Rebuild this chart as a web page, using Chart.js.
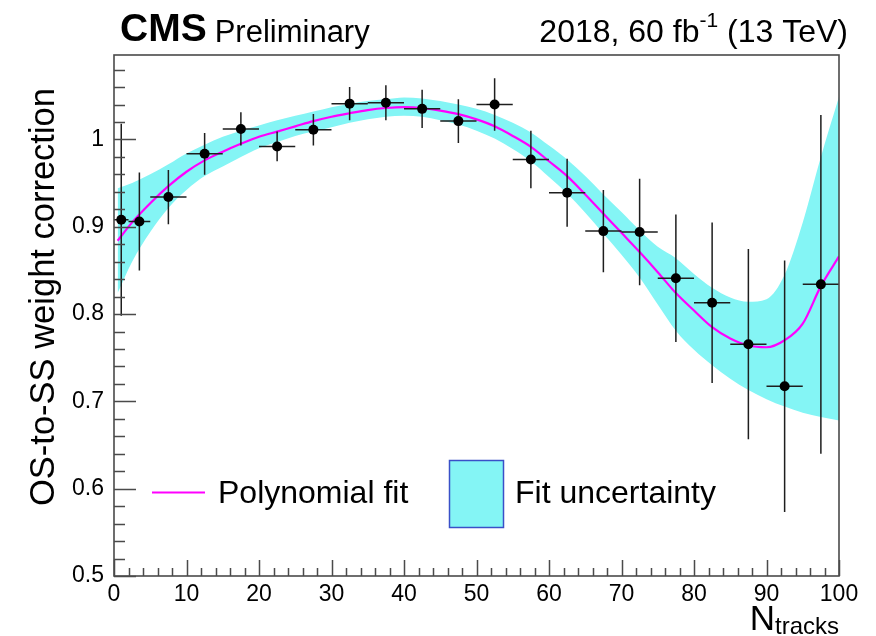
<!DOCTYPE html>
<html>
<head>
<meta charset="utf-8">
<script src="https://cdn.jsdelivr.net/npm/chart.js@4.4.1/dist/chart.umd.min.js"></script>
<style>
html,body{margin:0;padding:0;background:#fff;}
#wrap{position:relative;width:876px;height:636px;}
canvas{display:block;}
</style>
</head>
<body>
<div id="wrap"><canvas id="c" width="876" height="636"></canvas></div>
<script>
// ---- data ----
const binCenters    = [1, 3.5, 7.5, 12.5, 17.5, 22.5, 27.5, 32.5, 37.5, 42.5, 47.5, 52.5, 57.5, 62.5, 67.5, 72.5, 77.5, 82.5, 87.5, 92.5, 97.5];
const binHalfWidths = [1, 1.5, 2.5, 2.5, 2.5, 2.5, 2.5, 2.5, 2.5, 2.5, 2.5, 2.5, 2.5, 2.5, 2.5, 2.5, 2.5, 2.5, 2.5, 2.5, 2.5];
const ratioValues   = [0.908, 0.906, 0.934, 0.9835, 1.012, 0.992, 1.011, 1.041, 1.042, 1.035, 1.021, 1.040, 0.977, 0.939, 0.895, 0.894, 0.841, 0.813, 0.7655, 0.7174, 0.834];
const ratioErrors   = [0.110, 0.056, 0.031, 0.024, 0.019, 0.017, 0.018, 0.019, 0.020, 0.022, 0.025, 0.030, 0.033, 0.039, 0.047, 0.061, 0.073, 0.092, 0.109, 0.144, 0.194];

const fitX     = [0.5, 2.5, 5, 7.5, 10, 12.5, 15, 17.5, 20, 22.5, 25, 27.5, 30, 32.5, 35, 37.5, 40, 42.5, 45, 47.5, 50, 52.5, 55, 57.5, 60, 62.5, 65, 67.5, 70, 72.5, 75, 77.5, 80, 82.5, 85, 87.5, 90, 92.5, 95, 97.5, 100];
const fitY     = [0.884, 0.905, 0.927, 0.9465, 0.963, 0.976, 0.986, 0.995, 1.003, 1.009, 1.015, 1.021, 1.026, 1.030, 1.0336, 1.036, 1.037, 1.036, 1.033, 1.029, 1.023, 1.015, 1.004, 0.9915, 0.975, 0.958, 0.937, 0.915, 0.893, 0.871, 0.848, 0.824, 0.804, 0.785, 0.772, 0.764, 0.762, 0.770, 0.789, 0.832, 0.866];
const bandHigh = [0.944, 0.950, 0.960, 0.9715, 0.984, 0.994, 1.003, 1.010, 1.016, 1.022, 1.027, 1.032, 1.037, 1.041, 1.044, 1.046, 1.048, 1.047, 1.044, 1.040, 1.035, 1.028, 1.019, 1.008, 0.993, 0.977, 0.958, 0.937, 0.917, 0.896, 0.877, 0.864, 0.846, 0.830, 0.819, 0.814, 0.817, 0.845, 0.905, 0.980, 1.049];
const bandLow  = [0.824, 0.860, 0.894, 0.9215, 0.942, 0.958, 0.969, 0.980, 0.990, 0.997, 1.004, 1.009, 1.014, 1.019, 1.023, 1.026, 1.027, 1.026, 1.022, 1.017, 1.010, 1.001, 0.989, 0.975, 0.957, 0.938, 0.916, 0.892, 0.868, 0.842, 0.811, 0.781, 0.759, 0.7415, 0.726, 0.713, 0.7025, 0.694, 0.687, 0.682, 0.678];

const xTickValues = [0, 10, 20, 30, 40, 50, 60, 70, 80, 90, 100];
const xTickLabels = ['0', '10', '20', '30', '40', '50', '60', '70', '80', '90', '100'];
const yTickValues = [0.5, 0.6, 0.7, 0.8, 0.9, 1.0];
const yTickLabels = ['0.5', '0.6', '0.7', '0.8', '0.9', '1'];

const xTitleMain = 'N';
const xTitleSub = 'tracks';
const yTitle = 'OS-to-SS weight correction';
const legendFit = 'Polynomial fit';
const legendBand = 'Fit uncertainty';

// ---- styling ----
const FONT = "'Liberation Sans', Arial, Helvetica, sans-serif";
const BAND_COLOR = '#84f5f5';
const FIT_COLOR = '#ff00ff';
const AXIS_COLOR = '#4a4a4a';

const X_MIN = 0, X_MAX = 100, Y_MIN = 0.5, Y_MAX = 1.0967;

const pts = (xs, ys) => xs.map((x, i) => ({x: x, y: ys[i]}));

// error bars drawn just before the points dataset
const errorBars = {
  id: 'errorBars',
  beforeDatasetDraw(chart, args) {
    if (args.index !== 0) return;
    const ctx = chart.ctx, xs = chart.scales.x, ys = chart.scales.y;
    const a = chart.chartArea;
    ctx.save();
    ctx.beginPath();
    ctx.rect(a.left, a.top, a.right - a.left, a.bottom - a.top);
    ctx.clip();
    ctx.strokeStyle = '#1e1e1e';
    ctx.lineWidth = 1.5;
    ctx.beginPath();
    binCenters.forEach((c, i) => {
      const px = xs.getPixelForValue(c);
      const py = ys.getPixelForValue(ratioValues[i]);
      const x0 = xs.getPixelForValue(c - binHalfWidths[i]);
      const x1 = xs.getPixelForValue(c + binHalfWidths[i]);
      const y0 = ys.getPixelForValue(ratioValues[i] - ratioErrors[i]);
      const y1 = ys.getPixelForValue(ratioValues[i] + ratioErrors[i]);
      ctx.moveTo(x0, py); ctx.lineTo(x1, py);
      ctx.moveTo(px, y0); ctx.lineTo(px, y1);
    });
    ctx.stroke();
    ctx.restore();
  }
};

// frame, inward ticks, texts
const decorations = {
  id: 'decorations',
  afterDatasetsDraw(chart) {
    const ctx = chart.ctx, xs = chart.scales.x, ys = chart.scales.y;
    const a = chart.chartArea;
    ctx.save();
    ctx.strokeStyle = AXIS_COLOR;
    ctx.lineWidth = 1.5;
    ctx.beginPath();
    for (let k = 0; k <= 29; k++) {
      const v = Y_MIN + k * 0.02;
      if (v > Y_MAX) break;
      const py = Math.round(ys.getPixelForValue(v)) + 0.5;
      const major = (k % 5 === 0);
      ctx.moveTo(a.left, py); ctx.lineTo(a.left + (major ? 22 : 11), py);
    }
    for (let k = 0; k <= 50; k++) {
      const v = X_MIN + k * 2;
      const px = Math.round(xs.getPixelForValue(v)) + 0.5;
      const major = (k % 5 === 0);
      ctx.moveTo(px, a.bottom); ctx.lineTo(px, a.bottom - (major ? 16 : 8));
    }
    ctx.stroke();
    ctx.lineWidth = 1.6;
    ctx.strokeRect(a.left, a.top, a.right - a.left, a.bottom - a.top);
    ctx.restore();
  },
  afterDraw(chart) {
    const ctx = chart.ctx;
    ctx.save();
    ctx.fillStyle = '#000';
    ctx.textBaseline = 'alphabetic';
    // header
    ctx.textAlign = 'left';
    ctx.font = 'bold 39px ' + FONT;
    ctx.fillText('CMS', 120, 41);
    const wCMS = ctx.measureText('CMS').width;
    ctx.font = '31px ' + FONT;
    ctx.fillText('Preliminary', 120 + wCMS + 8, 42);
    // right header: 2018, 60 fb^-1 (13 TeV)
    const p1 = '2018, 60 fb', sup = '-1', p2 = ' (13 TeV)';
    ctx.font = '32px ' + FONT; const w1 = ctx.measureText(p1).width, w3 = ctx.measureText(p2).width;
    ctx.font = '21px ' + FONT; const w2 = ctx.measureText(sup).width;
    let xr = 848 - (w1 + w2 + w3);
    ctx.font = '32px ' + FONT; ctx.fillText(p1, xr, 42);
    ctx.font = '21px ' + FONT; ctx.fillText(sup, xr + w1, 27);
    ctx.font = '32px ' + FONT; ctx.fillText(p2, xr + w1 + w2, 42);
    // x title
    ctx.font = '24px ' + FONT; const wSub = ctx.measureText(xTitleSub).width;
    ctx.font = '35px ' + FONT; const wN = ctx.measureText(xTitleMain).width;
    const xs0 = 839 - wSub - wN;
    ctx.fillText(xTitleMain, xs0, 630);
    ctx.font = '24px ' + FONT; ctx.fillText(xTitleSub, xs0 + wN, 634);
    // y title
    ctx.save();
    ctx.translate(54, 297);
    ctx.rotate(-Math.PI / 2);
    ctx.textAlign = 'center';
    ctx.font = '34.5px ' + FONT;
    ctx.fillText(yTitle, 0, 0);
    ctx.restore();
    // legend
    ctx.strokeStyle = FIT_COLOR; ctx.lineWidth = 2.2;
    ctx.beginPath(); ctx.moveTo(152, 492.5); ctx.lineTo(205, 492.5); ctx.stroke();
    ctx.font = '32px ' + FONT; ctx.textAlign = 'left';
    ctx.fillText(legendFit, 218, 503);
    ctx.fillStyle = BAND_COLOR;
    ctx.fillRect(449.5, 460.5, 54, 67);
    ctx.strokeStyle = '#3a50c8'; ctx.lineWidth = 1.5;
    ctx.strokeRect(449.5, 460.5, 54, 67);
    ctx.fillStyle = '#000';
    ctx.fillText(legendBand, 515, 502.5);
    ctx.restore();
  }
};

new Chart(document.getElementById('c'), {
  type: 'line',
  data: {
    datasets: [
      { label: 'Data', data: pts(binCenters, ratioValues), showLine: false,
        pointRadius: 5, pointHoverRadius: 5, pointBackgroundColor: '#000', pointBorderWidth: 0, borderColor: '#000' },
      { label: legendFit, data: pts(fitX, fitY), borderColor: FIT_COLOR, borderWidth: 2.2,
        pointRadius: 0, fill: false, cubicInterpolationMode: 'monotone' },
      { label: legendBand, data: pts(fitX, bandHigh), borderWidth: 0, borderColor: 'rgba(0,0,0,0)',
        backgroundColor: BAND_COLOR, pointRadius: 0, fill: '+1', cubicInterpolationMode: 'monotone' },
      { label: 'band low', data: pts(fitX, bandLow), borderWidth: 0, borderColor: 'rgba(0,0,0,0)',
        pointRadius: 0, fill: false, cubicInterpolationMode: 'monotone' }
    ]
  },
  options: {
    responsive: false,
    animation: false,
    devicePixelRatio: 1,
    events: [],
    layout: { padding: { left: 0, right: 37, top: 55, bottom: 0 } },
    plugins: { legend: { display: false }, tooltip: { enabled: false }, title: { display: false } },
    scales: {
      x: {
        type: 'linear', min: X_MIN, max: X_MAX,
        grid: { display: false, drawTicks: false },
        border: { display: false },
        afterFit: s => { s.height = 60; },
        afterBuildTicks: s => { s.ticks = xTickValues.map(v => ({value: v})); },
        ticks: { autoSkip: false, maxRotation: 0, padding: 5, color: '#000',
                 font: { family: FONT, size: 23 },
                 callback: (v, i) => xTickLabels[i] }
      },
      y: {
        type: 'linear', min: Y_MIN, max: Y_MAX,
        grid: { display: false, drawTicks: false },
        border: { display: false },
        afterFit: s => { s.width = 114; },
        afterBuildTicks: s => { s.ticks = yTickValues.map(v => ({value: v})); },
        ticks: { autoSkip: false, padding: 10, color: '#000',
                 font: { family: FONT, size: 23 },
                 callback: (v, i) => yTickLabels[i] }
      }
    }
  },
  plugins: [errorBars, decorations]
});
</script>
</body>
</html>
